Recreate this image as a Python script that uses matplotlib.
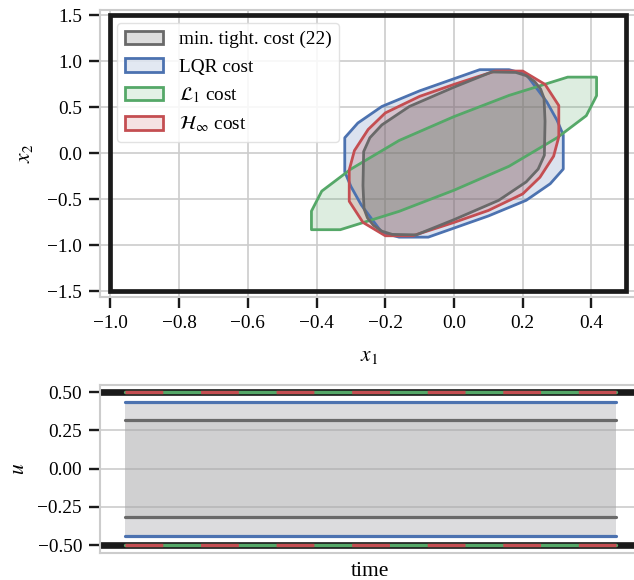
import numpy as np
import matplotlib
matplotlib.use("Agg")
import matplotlib.pyplot as plt
from matplotlib.patches import Polygon, Rectangle

plt.rcParams['font.family'] = ['Liberation Serif', 'DejaVu Serif']
plt.rcParams['mathtext.fontset'] = 'stix'
plt.rcParams['lines.scale_dashes'] = False

# state constraint box
x_box = [-1.0, 0.5]
y_box = [-1.5, 1.5]

# polytope vertices
tight_x = [0.263, 0.265, 0.262, 0.252, 0.235, 0.21, 0.18, 0.11, 0.0, -0.13, -0.21, -0.245,
           -0.263, -0.265, -0.262, -0.252, -0.235, -0.21, -0.18, -0.11, 0.0, 0.13, 0.21, 0.245]
tight_y = [-0.02, 0.35, 0.60, 0.70, 0.78, 0.845, 0.88, 0.885, 0.72, 0.51, 0.31, 0.17,
           0.02, -0.35, -0.60, -0.70, -0.78, -0.845, -0.88, -0.885, -0.72, -0.51, -0.31, -0.17]

lqr_x = [0.318, 0.318, 0.30, 0.27, 0.21, 0.16, 0.075, -0.10, -0.21, -0.28,
         -0.318, -0.318, -0.30, -0.27, -0.21, -0.16, -0.075, 0.10, 0.21, 0.28]
lqr_y = [-0.17, 0.20, 0.36, 0.56, 0.86, 0.91, 0.91, 0.68, 0.51, 0.33,
         0.17, -0.20, -0.36, -0.56, -0.86, -0.91, -0.91, -0.68, -0.51, -0.33]

l1_x = [0.385, 0.415, 0.415, 0.331, 0.16, 0.0, -0.16, -0.30,
        -0.385, -0.415, -0.415, -0.331, -0.16, 0.0, 0.16, 0.30]
l1_y = [0.41, 0.627, 0.829, 0.829, 0.63, 0.40, 0.14, -0.17,
        -0.41, -0.627, -0.829, -0.829, -0.63, -0.40, -0.14, 0.17]

hinf_x = [0.305, 0.305, 0.265, 0.20, 0.12, 0.0, -0.10, -0.20, -0.25, -0.29,
          -0.305, -0.305, -0.265, -0.20, -0.12, 0.0, 0.10, 0.20, 0.25, 0.29]
hinf_y = [0.18, 0.52, 0.75, 0.895, 0.895, 0.75, 0.62, 0.44, 0.26, 0.03,
          -0.18, -0.52, -0.75, -0.895, -0.895, -0.75, -0.62, -0.44, -0.26, -0.03]

# input bounds over time
time = [0, 1, 2, 3, 4, 5, 6, 7, 8, 9, 10, 11, 12, 13]
u_max = 0.5
u_tight = [0.318, 0.318, 0.318, 0.318, 0.318, 0.318, 0.318,
           0.318, 0.318, 0.318, 0.318, 0.318, 0.318, 0.318]
u_lqr = [0.438, 0.438, 0.438, 0.438, 0.438, 0.438, 0.438,
         0.438, 0.438, 0.438, 0.438, 0.438, 0.438, 0.438]
u_l1 = [0.5, 0.5, 0.5, 0.5, 0.5, 0.5, 0.5, 0.5, 0.5, 0.5, 0.5, 0.5, 0.5, 0.5]
u_hinf = [0.5, 0.5, 0.5, 0.5, 0.5, 0.5, 0.5, 0.5, 0.5, 0.5, 0.5, 0.5, 0.5, 0.5]

c_gray = '#696969'
c_blue = '#4c72b0'
c_green = '#55a868'
c_red = '#c44e52'
c_black = '#1a1a1a'

fig = plt.figure(figsize=(6.34, 5.8), dpi=100)
ax1 = fig.add_axes([0.158, 0.488, 0.848, 0.495])
ax2 = fig.add_axes([0.158, 0.047, 0.852, 0.29])

for ax in (ax1, ax2):
    ax.set_facecolor('white')
    ax.grid(True, color='#cccccc', lw=1.2)
    ax.set_axisbelow(True)
    for s in ax.spines.values():
        s.set_color('#cccccc')
        s.set_linewidth(1.5)
    ax.tick_params(axis='both', length=8, width=1.7, color=c_black,
                   labelsize=13.9, pad=5)

# top: state space sets
ax1.add_patch(Rectangle((x_box[0], y_box[0]), x_box[1] - x_box[0], y_box[1] - y_box[0],
                        fill=False, ec=c_black, lw=3.4, zorder=5))

sets = [(lqr_x, lqr_y, c_blue, 0.2, 'LQR cost'),
        (l1_x, l1_y, c_green, 0.2, r'$\mathcal{L}_1$ cost'),
        (hinf_x, hinf_y, c_red, 0.2, r'$\mathcal{H}_\infty$ cost'),
        (tight_x, tight_y, c_gray, 0.28, 'min. tight. cost (22)')]
handles = {}
for i, (px, py, c, a, lab) in enumerate(sets):
    pts = np.column_stack([px, py])
    face = Polygon(pts, closed=True, fc=c, alpha=a, ec='none', zorder=2 + i * 0.1)
    edge = Polygon(pts, closed=True, fill=False, ec=c, lw=2, zorder=3 + i * 0.1,
                   joinstyle='round')
    ax1.add_patch(face)
    ax1.add_patch(edge)
    handles[lab] = Rectangle((0, 0), 1, 1, fc=matplotlib.colors.to_rgba(c, a * 0.8),
                             ec=c, lw=2)

order = ['min. tight. cost (22)', 'LQR cost', r'$\mathcal{L}_1$ cost', r'$\mathcal{H}_\infty$ cost']
ax1.legend([handles[k] for k in order], order, loc='upper left',
           bbox_to_anchor=(0.031, 0.954), borderaxespad=0, fontsize=13.9,
           framealpha=0.85, edgecolor='#dddddd', fancybox=True)

ax1.set_xlim(-1.03, 0.535)
ax1.set_ylim(-1.56, 1.56)
ax1.set_xticks([-1.0, -0.8, -0.6, -0.4, -0.2, 0.0, 0.2, 0.4])
ax1.set_yticks([-1.5, -1.0, -0.5, 0.0, 0.5, 1.0, 1.5])
ax1.set_xlabel('$x_1$', fontsize=15.5, labelpad=11)
ax1.set_ylabel('$x_2$', fontsize=15.5, labelpad=9)

# bottom: input bounds
t = np.array(time)
ax2.fill_between(t, -np.array(u_lqr), u_lqr, color='#a9a9ad', alpha=0.4, lw=0, zorder=1)
ax2.fill_between(t, -np.array(u_tight), u_tight, color='#a0a0a0', alpha=0.2, lw=0, zorder=1)
ax2.axhline(u_max, color=c_black, lw=4.8, zorder=2)
ax2.axhline(-u_max, color=c_black, lw=4.8, zorder=2)
for sign in (1, -1):
    ax2.plot(t, sign * np.array(u_tight), color=c_gray, lw=2.3, solid_capstyle='round', zorder=3)
    ax2.plot(t, sign * np.array(u_lqr), color=c_blue, lw=2.3, solid_capstyle='round', zorder=3)
    ax2.plot(t, sign * np.array(u_l1), color=c_green, lw=2.4, solid_capstyle='round', zorder=4)
    ax2.plot(t, sign * np.array(u_hinf), color=c_red, lw=2.4, dashes=(27.2, 27.2),
             dash_capstyle='butt', zorder=5)

ax2.set_xlim(-0.65, 13.65)
ax2.set_ylim(-0.55, 0.55)
ax2.set_xticks([])
ax2.set_yticks([-0.5, -0.25, 0.0, 0.25, 0.5])
ax2.set_xlabel('time', fontsize=15.5, labelpad=7)
ax2.set_ylabel('$u$', fontsize=15.5, labelpad=6)

fig.savefig('out.png', dpi=100)
